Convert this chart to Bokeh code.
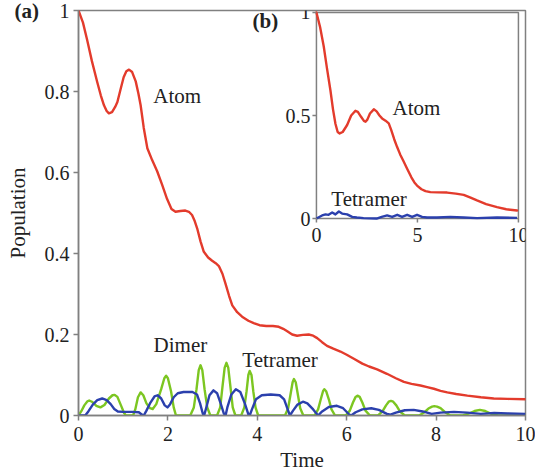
from math import pi
from bokeh.plotting import figure
from bokeh.models import Range1d, FixedTicker, Label, Title
from bokeh.embed import file_html
from bokeh.resources import INLINE
from bokeh.core.properties import value

# ---------------- data: panel (a) ----------------
t_atom = [0, 0.1, 0.19, 0.3, 0.42, 0.5, 0.57, 0.63, 0.68, 0.75, 0.82, 0.87, 0.94, 1.01, 1.07, 1.13,
          1.2, 1.28, 1.34, 1.39, 1.46, 1.54, 1.65, 1.76, 1.87, 1.98, 2.08, 2.17, 2.28, 2.39, 2.47,
          2.54, 2.6, 2.66, 2.73, 2.8, 2.9, 2.99, 3.07, 3.14, 3.22, 3.29, 3.37, 3.44, 3.55, 3.66,
          3.8, 3.92, 4.05, 4.2, 4.35, 4.48, 4.58, 4.67, 4.78, 4.89, 5.02, 5.15, 5.25, 5.34, 5.45,
          5.56, 5.7, 5.86, 6.0, 6.16, 6.35, 6.5, 6.68, 6.9, 7.1, 7.28, 7.45, 7.65, 7.8, 7.95, 8.1,
          8.25, 8.45, 8.7, 9.0, 9.29, 9.6, 10.0]
v_atom = [1.0, 0.97, 0.929, 0.875, 0.823, 0.79, 0.766, 0.752, 0.746, 0.749, 0.762, 0.774, 0.805, 0.835, 0.85, 0.854,
          0.848, 0.825, 0.795, 0.766, 0.71, 0.66, 0.63, 0.603, 0.57, 0.535, 0.51, 0.503, 0.505, 0.506, 0.503,
          0.495, 0.48, 0.46, 0.43, 0.405, 0.39, 0.382, 0.376, 0.369, 0.35, 0.325, 0.295, 0.272, 0.255, 0.244,
          0.234, 0.228, 0.223, 0.221, 0.221, 0.219, 0.214, 0.208, 0.2, 0.197, 0.199, 0.2, 0.197, 0.191, 0.181,
          0.172, 0.165, 0.158, 0.15, 0.14, 0.128, 0.121, 0.114, 0.103, 0.092, 0.083, 0.078, 0.074, 0.07, 0.066, 0.061,
          0.057, 0.053, 0.049, 0.045, 0.042, 0.041, 0.04]

t_dimer = [0, 0.06, 0.13, 0.2, 0.24, 0.3, 0.4, 0.49, 0.58, 0.68, 0.76, 0.81, 0.87, 0.95, 1.02, 1.06,
           1.22, 1.27, 1.33, 1.39, 1.45, 1.52, 1.6, 1.66, 1.74, 1.85, 1.92, 1.96, 2.0, 2.07, 2.13, 2.18,
           2.5, 2.58, 2.64, 2.69, 2.73, 2.77, 2.82, 2.88, 2.95,
           3.1, 3.17, 3.22, 3.27, 3.31, 3.35, 3.4, 3.45, 3.51,
           3.64, 3.71, 3.76, 3.8, 3.83, 3.87, 3.91, 3.96, 4.02,
           4.62, 4.69, 4.74, 4.79, 4.82, 4.86, 4.91, 4.96, 5.03,
           5.28, 5.36, 5.42, 5.47, 5.5, 5.54, 5.6, 5.66, 5.74,
           5.98, 6.07, 6.14, 6.2, 6.24, 6.29, 6.35, 6.42, 6.52,
           6.7, 6.8, 6.88, 6.94, 6.99, 7.04, 7.11, 7.19, 7.3,
           7.62, 7.74, 7.84, 7.91, 7.96, 8.02, 8.1, 8.2, 8.32,
           8.6, 8.74, 8.86, 8.98, 9.1, 9.22, 9.38, 10.0]
v_dimer = [0, 0.01, 0.025, 0.035, 0.037, 0.034, 0.024, 0.02, 0.026, 0.042, 0.05, 0.051, 0.046, 0.025, 0.006, 0,
           0, 0.015, 0.045, 0.057, 0.05, 0.03, 0.018, 0.016, 0.028, 0.065, 0.092, 0.098, 0.092, 0.06, 0.02, 0,
           0, 0.02, 0.065, 0.112, 0.124, 0.112, 0.065, 0.02, 0,
           0, 0.02, 0.07, 0.118, 0.13, 0.118, 0.07, 0.02, 0,
           0, 0.02, 0.06, 0.1, 0.11, 0.1, 0.06, 0.02, 0,
           0, 0.018, 0.05, 0.082, 0.09, 0.082, 0.05, 0.018, 0,
           0, 0.015, 0.04, 0.06, 0.065, 0.06, 0.04, 0.015, 0,
           0, 0.012, 0.032, 0.046, 0.049, 0.046, 0.032, 0.012, 0,
           0, 0.01, 0.025, 0.034, 0.036, 0.034, 0.025, 0.01, 0,
           0, 0.008, 0.018, 0.022, 0.023, 0.022, 0.018, 0.008, 0,
           0, 0.005, 0.011, 0.014, 0.011, 0.005, 0, 0]

t_tetra = [0, 0.15, 0.22, 0.32, 0.42, 0.53, 0.63, 0.72, 0.8, 0.88, 1.0, 1.2, 1.35, 1.42, 1.46,
           1.52, 1.61, 1.7, 1.77, 1.85, 1.93, 1.99, 2.05, 2.13, 2.22, 2.35, 2.55, 2.65, 2.72, 2.78, 2.81,
           2.86, 2.93, 3.02, 3.1, 3.18, 3.25, 3.29, 3.33, 3.42, 3.52, 3.62, 3.72, 3.8, 3.83,
           3.88, 3.97, 4.1, 4.3, 4.5, 4.6, 4.68, 4.73, 4.8, 4.9, 5.02, 5.12, 5.25, 5.36,
           5.45, 5.6, 5.78, 5.92, 6.05, 6.1, 6.2, 6.35, 6.55, 6.72, 6.9, 6.98, 7.1, 7.3, 7.5,
           7.7, 7.9, 8.1, 8.4, 8.7, 9.0, 9.3, 9.6, 10.0]
v_tetra = [0, 0, 0.01, 0.027, 0.038, 0.042, 0.038, 0.028, 0.016, 0.01, 0.009, 0.009, 0.008, 0.002, 0,
           0.012, 0.032, 0.047, 0.05, 0.042, 0.025, 0.02, 0.028, 0.045, 0.055, 0.058, 0.058, 0.052, 0.03, 0.005, 0,
           0.02, 0.05, 0.062, 0.055, 0.03, 0.005, 0, 0.02, 0.052, 0.065, 0.058, 0.03, 0.003, 0,
           0.015, 0.04, 0.05, 0.052, 0.05, 0.04, 0.015, 0, 0.012, 0.027, 0.034, 0.03, 0.015, 0,
           0.01, 0.021, 0.024, 0.018, 0.003, 0, 0.008, 0.015, 0.018, 0.014, 0.004, 0.002, 0.007, 0.013, 0.014,
           0.01, 0.004, 0.007, 0.009, 0.007, 0.004, 0.006, 0.005, 0.004]

# ---------------- data: inset (b) ----------------
t_atom_b = [0, 0.18, 0.36, 0.52, 0.69, 0.82, 0.94, 1.05, 1.15, 1.3, 1.52, 1.72, 1.93, 2.05, 2.2, 2.35,
            2.43, 2.52, 2.65, 2.84, 2.98, 3.12, 3.25, 3.42, 3.58, 3.7, 3.85, 3.99, 4.15, 4.3, 4.49,
            4.7, 4.85, 4.98, 5.2, 5.4, 5.64, 6.0, 6.47, 6.9, 7.29, 7.6, 7.95, 8.4, 8.94, 9.4, 9.93]
v_atom_b = [1.0, 0.93, 0.836, 0.73, 0.624, 0.53, 0.46, 0.42, 0.413, 0.42, 0.454, 0.5, 0.523, 0.518, 0.495, 0.474,
            0.47, 0.48, 0.51, 0.53, 0.52, 0.5, 0.486, 0.475, 0.462, 0.43, 0.385, 0.348, 0.31, 0.28, 0.242,
            0.2, 0.175, 0.16, 0.142, 0.133, 0.128, 0.127, 0.126, 0.121, 0.115, 0.103, 0.088, 0.07, 0.055, 0.045, 0.039]
t_tetra_b = [0, 0.28, 0.45, 0.6, 0.78, 0.94, 1.11, 1.27, 1.52, 1.77, 2.0, 2.33, 2.98, 3.23, 3.5, 3.75,
             4.0, 4.24, 4.49, 4.74, 4.98, 5.23, 5.48, 5.97, 6.63, 7.29, 7.95, 8.94, 9.93]
v_tetra_b = [0, 0.015, 0.02, 0.018, 0.029, 0.02, 0.034, 0.024, 0.02, 0.008, 0.005, 0.002, 0, 0.008, 0.015, 0.008,
             0.018, 0.008, 0.018, 0.008, 0.018, 0.008, 0.005, 0.005, 0.008, 0.005, 0.002, 0.005, 0.003]

# ---------------- ticks ----------------
x_ticks = [0, 2, 4, 6, 8, 10]
y_ticks = [0, 0.2, 0.4, 0.6, 0.8, 1]
y_tick_labels = ["0", "0.2", "0.4", "0.6", "0.8", "1"]
inset_x_ticks = [0, 5, 10]
inset_x_labels = ["0", "5", "10"]
inset_y_ticks = [0, 0.5, 1]
inset_y_labels = ["0", "0.5", "1"]

RED = "#e33b2c"
GREEN = "#7cc621"
BLUE = "#2b40ad"
GRAY = "#808080"
TXT = "#222222"
FONT = "Liberation Serif"
LW = 2.4

p = figure(width=535, height=474, output_backend="svg", toolbar_location=None,
           x_range=Range1d(0, 10), y_range=Range1d(0, 1),
           min_border_left=78, min_border_right=10, min_border_top=10, min_border_bottom=59)
p.background_fill_color = "white"
p.border_fill_color = "white"
p.outline_line_color = GRAY
p.outline_line_width = 1.5
p.grid.visible = False

# inset coordinate system (the inset box expressed as ranges over the main frame)
p.extra_x_ranges = {"ix": Range1d(-11.78, 10.35)}
p.extra_y_ranges = {"iy": Range1d(-0.956, 1.0097)}

for ax in (p.xaxis[0], p.yaxis[0]):
    ax.axis_line_color = GRAY
    ax.axis_line_width = 1.5
    ax.major_tick_line_color = GRAY
    ax.major_tick_line_width = 1.5
    ax.major_tick_out = 5
    ax.major_tick_in = 0
    ax.minor_tick_line_color = None
    ax.major_label_text_font = FONT
    ax.major_label_text_font_size = "20px"
    ax.major_label_text_color = TXT
    ax.axis_label_text_font = FONT
    ax.axis_label_text_font_size = "21px"
    ax.axis_label_text_font_style = "normal"
    ax.axis_label_text_color = TXT

p.xaxis.ticker = FixedTicker(ticks=x_ticks)
p.yaxis.ticker = FixedTicker(ticks=y_ticks)
p.yaxis.major_label_overrides = dict(zip(y_ticks, y_tick_labels))
p.xaxis.axis_label = "Time"
p.yaxis.axis_label = "Population"
p.xaxis.major_label_standoff = 6
p.yaxis.major_label_standoff = 4
p.xaxis.axis_label_standoff = 4
p.yaxis.axis_label_standoff = 12

# panel label "(a)" as a compact title that sits in the top-left corner
p.add_layout(Title(text="(a)", align="left", offset=-64, standoff=-24, vertical_align="bottom",
                   text_font=FONT, text_font_size="21px", text_font_style="bold", text_color=TXT), "above")

# panel (a) curves
p.line(t_atom, v_atom, line_color=RED, line_width=LW, line_join="round", line_cap="round")
p.line(t_dimer, v_dimer, line_color=GREEN, line_width=LW, line_join="round")
p.line(t_tetra, v_tetra, line_color=BLUE, line_width=LW, line_join="round")

# inset (b)
p.quad(left=[0], right=[10], bottom=[0], top=[1], fill_color="white", line_color=GRAY, line_width=1.5,
       x_range_name="ix", y_range_name="iy")
p.line(t_atom_b, v_atom_b, line_color=RED, line_width=LW, line_join="round", line_cap="round",
       x_range_name="ix", y_range_name="iy")
p.line(t_tetra_b, v_tetra_b, line_color=BLUE, line_width=LW, line_join="round",
       x_range_name="ix", y_range_name="iy")
p.ray(x=[0] * len(inset_y_ticks), y=inset_y_ticks, length=4, length_units="screen", angle=pi,
      line_color=GRAY, line_width=1.5, x_range_name="ix", y_range_name="iy")
p.ray(x=inset_x_ticks, y=[0] * len(inset_x_ticks), length=4, length_units="screen", angle=-pi / 2,
      line_color=GRAY, line_width=1.5, x_range_name="ix", y_range_name="iy")
p.text(x=[0] * len(inset_y_ticks), y=inset_y_ticks, text=inset_y_labels, x_offset=-6,
       text_align="right", text_baseline="middle", text_font=value(FONT), text_font_size="20px",
       text_color=TXT, x_range_name="ix", y_range_name="iy")
p.text(x=inset_x_ticks, y=[0] * len(inset_x_ticks), text=inset_x_labels, y_offset=9,
       text_align="center", text_baseline="top", text_font=value(FONT), text_font_size="20px",
       text_color=TXT, x_range_name="ix", y_range_name="iy")

def lab(x, y, txt, bold=False):
    p.add_layout(Label(x=x, y=y, text=txt, text_font=FONT, text_font_size="21px",
                       text_align="center", text_baseline="middle", text_color=TXT,
                       text_font_style="bold" if bold else "normal"))

lab(2.21, 0.79, "Atom")
lab(2.28, 0.173, "Dimer")
lab(4.51, 0.136, "Tetramer")
lab(7.56, 0.759, "Atom")
lab(6.5, 0.535, "Tetramer")
lab(4.18, 0.973, "(b)", bold=True)

open("out.html", "w").write(file_html(p, INLINE))
